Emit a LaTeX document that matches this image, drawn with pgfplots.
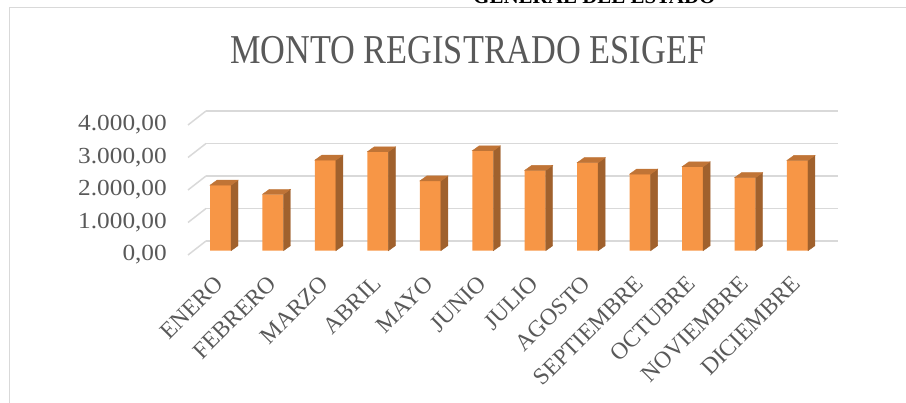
\documentclass[border=0pt]{standalone}
\usepackage{pgfplots}
\usepackage{pgfplotstable}
\pgfplotsset{compat=1.18}
\usepackage{fontspec}
\setmainfont{Liberation Serif}
\usepackage{graphicx}

\definecolor{textc}{HTML}{595959}
\definecolor{gridc}{HTML}{D9D9D9}
\definecolor{frontc}{HTML}{F79646}
\definecolor{sidec}{HTML}{A0612D}
\definecolor{topc}{HTML}{C07436}

% marca vacia: las caras 3D las dibuja el codigo del scatter
\pgfdeclareplotmark{vacio}{}

\pgfplotstableread{
x y
0 2010
1 1730
2 2780
3 3035
4 2140
5 3065
6 2465
7 2700
8 2350
9 2575
10 2240
11 2770
}\monto

\newcommand{\yl}[1]{\scalebox{1.1}[1]{#1}}

\begin{document}
\begin{tikzpicture}
\useasboundingbox (0,0) rectangle (906pt,403pt);

% marco y texto cortado arriba
\draw[gridc, line width=1pt] (9pt,0pt) -- (9pt,395pt) -- (906pt,395pt);
\node[anchor=base west, inner sep=0pt] at (473pt,399pt)
  {\fontsize{21}{21}\selectfont\bfseries GENERAL DEL ESTADO};

% titulo
\node[anchor=base west, inner sep=0pt, text=textc] at (230pt,339.7pt)
  {\scalebox{0.837}[1]{\fontsize{41}{41}\selectfont MONTO REGISTRADO ESIGEF}};

% pared del fondo con lineas de division
\begin{axis}[
  at={(206pt,162pt)}, anchor=south west,
  scale only axis, width=632pt, height=130pt,
  xmin=0, xmax=1, ymin=0, ymax=4000,
  xtick=\empty, ytick={0,1000,2000,3000,4000}, yticklabels={},
  ymajorgrids, grid style={gridc, line width=1.5pt},
  axis line style={draw=none}, major tick length=0pt, clip=false]
\pgfplotsinvokeforeach{0,1000,2000,3000,4000}{
  \draw[gridc, line width=1.5pt] (axis cs:0,#1) -- ++(-18pt,-14pt);
}
\end{axis}

% barras
\begin{axis}[
  at={(194.3pt,152.3pt)}, anchor=south west,
  scale only axis, width=629.4pt, height=130.4pt,
  xmin=-0.5, xmax=11.5, ymin=0, ymax=4000,
  axis line style={draw=none}, major tick length=0pt, clip=false,
  ytick={0,1000,2000,3000,4000},
  yticklabels={\yl{0,00},\yl{1.000,00},\yl{2.000,00},\yl{3.000,00},\yl{4.000,00}},
  yticklabel style={font=\fontsize{23}{23}\selectfont, text=textc,
    anchor=east, inner sep=0pt, xshift=-27.3pt, yshift=-4.3pt},
  xtick={0,...,11},
  xticklabels={ENERO,FEBRERO,MARZO,ABRIL,MAYO,JUNIO,JULIO,AGOSTO,SEPTIEMBRE,OCTUBRE,NOVIEMBRE,DICIEMBRE},
  xticklabel style={font=\fontsize{23.5}{23.5}\selectfont, text=textc,
    inner sep=0pt, xshift=-1pt, yshift=-29pt, rotate=45, anchor=east},
]
\addplot[ybar, bar width=21pt, fill=frontc, draw=none] table[x=x,y=y]{\monto};
\addplot[scatter, only marks, mark=vacio, point meta=y, point meta min=0, point meta max=4000,
  scatter/@pre marker code/.code={
    \pgfmathsetmacro\hh{\pgfplotspointmetatransformed*0.1304}
    \fill[sidec] (10.5pt,0pt) -- (17.5pt,5pt) -- (17.5pt,5pt-\hh pt) -- (10.5pt,-\hh pt) -- cycle;
    \fill[topc] (-10.5pt,0pt) -- (10.5pt,0pt) -- (17.5pt,5pt) -- (-3.5pt,5pt) -- cycle;
  },
  scatter/@post marker code/.code={}
] table[x=x,y=y]{\monto};
\end{axis}
\end{tikzpicture}
\end{document}
